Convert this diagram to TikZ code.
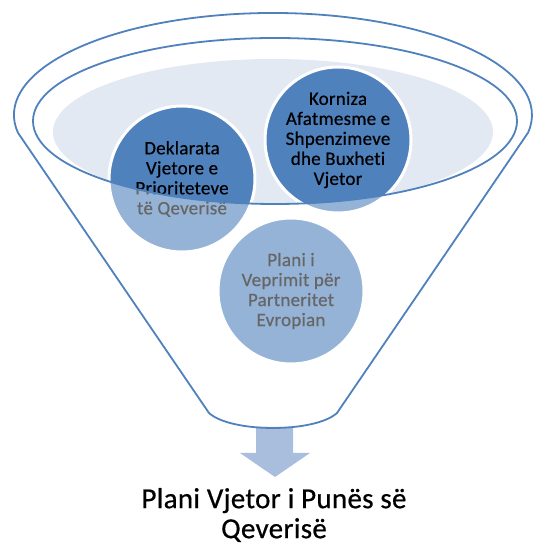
\documentclass[tikz,border=0pt]{standalone}
\usepackage{fontspec}
\setmainfont{Carlito}[Ligatures={NoCommon}, LetterSpace=1.2, FakeBold=0.5]
\newfontfamily\titlefont{Carlito}[Ligatures={NoCommon}, LetterSpace=1, FakeBold=0.6]
\definecolor{fblue}{HTML}{4F81BD}
\definecolor{flight}{HTML}{E3E9F2}
\definecolor{farrow}{HTML}{A9BEDC}
\begin{document}
\begin{tikzpicture}[x=1pt,y=1pt,
  bubble/.style={circle, fill=fblue, draw=white, line width=3pt, minimum size=146pt, inner sep=0pt, align=center, font=\fontsize{19}{20}\selectfont, text=black},
  outline/.style={draw=fblue, line width=1.8pt},
  veil/.style={fill=white, fill opacity=0.4, even odd rule},
  title/.style={font=\titlefont\fontsize{29}{30}\selectfont, align=center, inner sep=0pt}
]
\useasboundingbox (0,0) rectangle (534,545);
% light opening
\fill[flight] (273,413) ellipse [x radius=220pt, y radius=73pt];
% circles
\node[bubble] (decl) at (182,366) {Deklarata\\Vjetore e\\Prioriteteve\\të Qeverisë};
\node[bubble] (kor) at (338,405) {Korniza\\Afatmesme e\\Shpenzimeve\\dhe Buxheti\\Vjetor};
\node[bubble] (plan) at (291,254) {Plani i\\Veprimit për\\Partneritet\\Evropian};
% funnel body veil
\fill[veil] (17.9,412.3) arc[start angle=190, end angle=-10, x radius=259pt, y radius=102pt]
  -- (337,132) .. controls (315,112) and (231,112) .. (209,132) -- cycle
  (275,424) ellipse [x radius=242pt, y radius=83pt];
% arrow
\fill[farrow] (256,118) -- (256,92) -- (240,92) -- (275,68) -- (310,92) -- (293,92) -- (293,118) -- cycle;
% outlines
\draw[outline, line join=round] (17.9,412.3) arc[start angle=190, end angle=-10, x radius=259pt, y radius=102pt]
  -- (337,132) .. controls (315,112) and (231,112) .. (209,132) -- cycle;
\draw[outline] (275,424) ellipse [x radius=242pt, y radius=83pt];
% title
\node[title] (res) at (274,30) {Plani Vjetor i Punës së\\Qeverisë};
\end{tikzpicture}
\end{document}
